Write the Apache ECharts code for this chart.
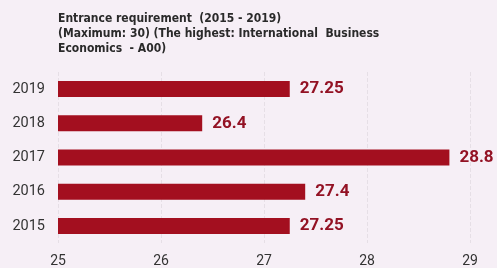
<!DOCTYPE html>
<html><head><meta charset="utf-8">
<script src="https://cdn.jsdelivr.net/npm/echarts@6/dist/echarts.min.js"></script>
<style>html,body{margin:0;padding:0;background:#f6eff6;}#c{width:497px;height:268px;}</style>
</head><body><div id="c"></div>
<script>
const years = ['2015','2016','2017','2018','2019'];
const scores = [27.25, 27.4, 28.8, 26.4, 27.25];
const xTicks = [25, 26, 27, 28, 29];
const titleLines = ['Entrance requirement  (2015 - 2019)', '(Maximum: 30) (The highest: International  Business', 'Economics  - A00)'];

const chart = echarts.init(document.getElementById('c'));
chart.setOption({
  backgroundColor: '#f6eff6',
  animation: false,
  title: {
    text: titleLines.join('\n'),
    left: 53, top: 6,
    textStyle: {fontFamily: 'Liberation Sans Narrow, DejaVu Sans Condensed, sans-serif', fontSize: 12, fontWeight: 'bold', color: '#2a2a2a', lineHeight: 15}
  },
  grid: {left: 58, right: 27, top: 72, bottom: 25},
  xAxis: {
    type: 'value', min: xTicks[0], max: xTicks[xTicks.length-1], interval: 1,
    axisLine: {show: false}, axisTick: {show: false},
    axisLabel: {color: '#333', fontSize: 14, fontFamily: 'Roboto, sans-serif', margin: 11},
    splitLine: {lineStyle: {color: '#e6dfe6', type: 'dashed'}}
  },
  yAxis: {
    type: 'category', data: years,
    axisLine: {show: false}, axisTick: {show: false},
    axisLabel: {color: '#333', fontSize: 14.5, fontFamily: 'Roboto, sans-serif', margin: 13}
  },
  series: [{
    type: 'bar', data: scores, barWidth: 16,
    itemStyle: {color: '#a30f1f'},
    label: {show: true, position: 'right', distance: 10, color: '#931224', fontSize: 17, fontWeight: 'bold', fontFamily: 'Roboto, sans-serif'}
  }]
});
</script></body></html>
